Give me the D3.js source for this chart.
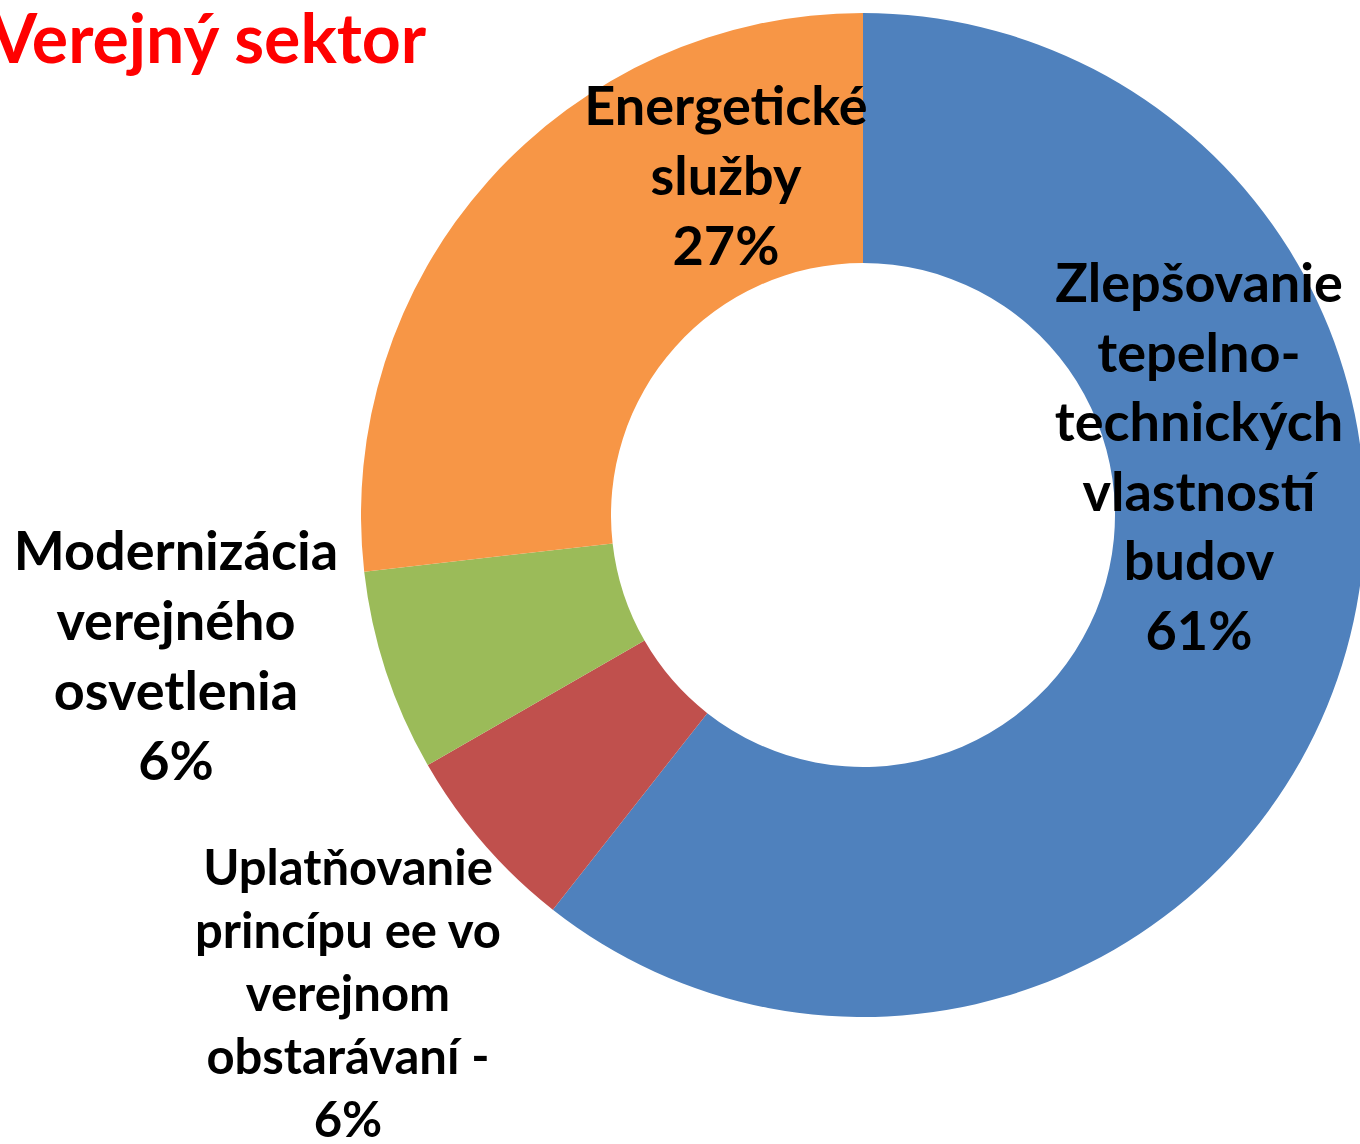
<!DOCTYPE html>
<html>
<head>
<meta charset="utf-8">
<script src="https://cdn.jsdelivr.net/npm/d3@7"></script>
<style>
  html, body { margin: 0; padding: 0; background: #ffffff; }
  svg { display: block; }
</style>
</head>
<body>
<svg id="chart" width="1360" height="1144"></svg>
<script>
// ---- data ----
const title = "Verejný sektor";
const categories = [
  "Zlepšovanie tepelno-technických vlastností budov",
  "Uplatňovanie princípu ee vo verejnom obstarávaní",
  "Modernizácia verejného osvetlenia",
  "Energetické služby"
];
const values = [60.6, 6.1, 6.5, 26.8];
const percentLabels = ["61%", "6%", "6%", "27%"];
const labelLines = [
  ["Zlepšovanie", "tepelno-", "technických", "vlastností", "budov", "61%"],
  ["Uplatňovanie", "princípu ee vo", "verejnom", "obstarávaní -", "6%"],
  ["Modernizácia", "verejného", "osvetlenia", "6%"],
  ["Energetické", "služby", "27%"]
];
const colors = ["#4F81BD", "#C0504D", "#9BBB59", "#F79646"];

// ---- layout ----
const W = 1360, H = 1144;
const cx = 863, cy = 515, rOuter = 502, rInner = 252;
// label anchor (center x, first baseline y), line spacing, font size
const labelLayout = [
  { x: 1199, y: 302, dy: 69.6, size: 54 },
  { x: 348, y: 885, dy: 63, size: 49 },
  { x: 176, y: 570, dy: 70, size: 54 },
  { x: 726, y: 125, dy: 70, size: 54 }
];

const svg = d3.select("#chart");
const font = "Lato, 'Open Sans', sans-serif";

const pie = d3.pie().sort(null).value(d => d)(values);
const arc = d3.arc().innerRadius(rInner).outerRadius(rOuter);
const color = d3.scaleOrdinal().domain(d3.range(values.length)).range(colors);

const g = svg.append("g").attr("transform", `translate(${cx},${cy})`);
g.selectAll("path.slice")
  .data(pie)
  .join("path")
  .attr("class", "slice")
  .attr("d", arc)
  .attr("fill", (d, i) => color(i));

// labels
labelLines.forEach((lines, i) => {
  const L = labelLayout[i];
  const t = svg.append("text")
    .attr("text-anchor", "middle")
    .attr("font-family", font)
    .attr("font-weight", 700)
    .attr("font-size", L.size)
    .attr("fill", "#000000");
  lines.forEach((ln, k) => {
    t.append("tspan")
      .attr("x", L.x)
      .attr("y", L.y + k * L.dy)
      .text(ln);
  });
});

// title
svg.append("text")
  .attr("x", -10)
  .attr("y", 63)
  .attr("font-family", font)
  .attr("font-weight", 700)
  .attr("font-size", 68)
  .attr("fill", "#FF0000")
  .text(title);
</script>
</body>
</html>
